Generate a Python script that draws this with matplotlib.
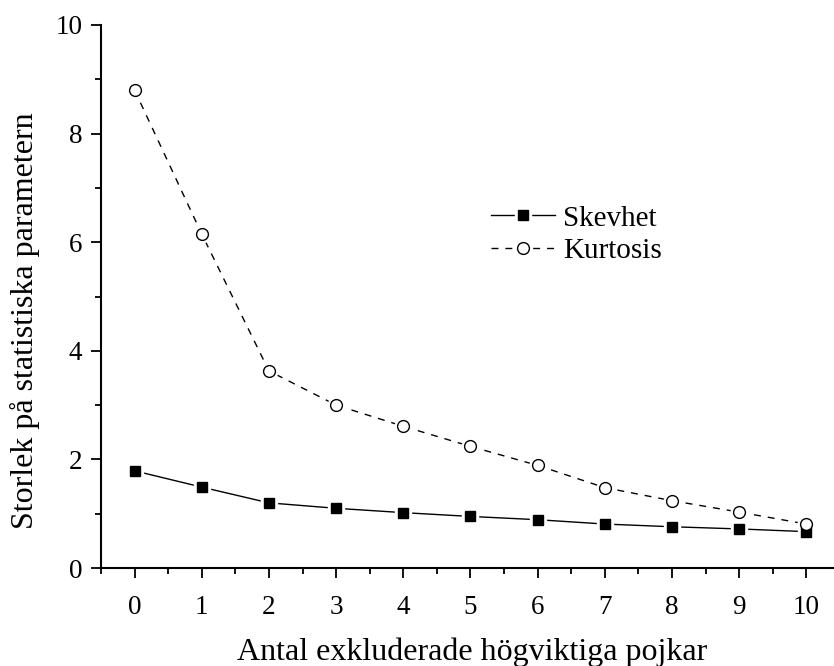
import matplotlib.pyplot as plt
import numpy as np
from matplotlib.ticker import MultipleLocator
from matplotlib.legend_handler import HandlerTuple

plt.rcParams['font.family'] = ['Liberation Serif', 'DejaVu Serif']

excluded = np.arange(0, 11)
skevhet = [1.79, 1.49, 1.20, 1.10, 1.02, 0.95, 0.89, 0.81, 0.76, 0.72, 0.67]
kurtosis = [8.80, 6.15, 3.63, 3.00, 2.61, 2.24, 1.89, 1.48, 1.24, 1.03, 0.81]

fig = plt.figure(figsize=(8.34, 6.66), dpi=100)
ax = fig.add_axes([0.1211, 0.1471, 0.886, 0.8154])

# lines, then a white halo under each marker so the line stops short of it
l1, = ax.plot(excluded, skevhet, color='black', lw=1.0, zorder=2)
h1, = ax.plot(excluded, skevhet, ls='none', marker='s', ms=11, mfc='white',
              mec='white', zorder=3)
m1, = ax.plot(excluded, skevhet, ls='none', marker='s', ms=7.5, mfc='black',
              mec='black', zorder=4)

l2, = ax.plot(excluded, kurtosis, color='black', lw=1.0, ls=(0, (5, 5)), zorder=2)
h2, = ax.plot(excluded, kurtosis, ls='none', marker='o', ms=12, mfc='white',
              mec='white', zorder=3)
m2, = ax.plot(excluded, kurtosis, ls='none', marker='o', ms=8.5, mfc='white',
              mec='black', mew=1.0, zorder=4)

ax.set_xlim(-0.5, 10.5)
ax.set_ylim(0, 10)
ax.xaxis.set_major_locator(MultipleLocator(1))
ax.xaxis.set_minor_locator(MultipleLocator(0.5))
ax.yaxis.set_major_locator(MultipleLocator(2))
ax.yaxis.set_minor_locator(MultipleLocator(1))

for s in ['top', 'right']:
    ax.spines[s].set_visible(False)
for s in ['left', 'bottom']:
    ax.spines[s].set_linewidth(1.5)

ax.tick_params(which='major', direction='out', length=7.5, width=1.3,
               labelsize=19.5)
ax.tick_params(which='minor', direction='out', length=4, width=1.3)
ax.tick_params(axis='x', which='major', pad=12)
ax.tick_params(axis='y', which='major', pad=6)

ax.set_xlabel('Antal exkluderade högviktiga pojkar', fontsize=23)
ax.set_ylabel('Storlek på statistiska parametern', fontsize=23)
ax.xaxis.set_label_coords(0.502, -0.128)
ax.yaxis.set_label_coords(-0.083, 0.456)

ax.legend([(l1, h1, m1), (l2, h2, m2)], ['Skevhet', 'Kurtosis'],
          handler_map={tuple: HandlerTuple(ndivide=1)},
          loc='upper left', bbox_to_anchor=(0.508, 0.695), frameon=False,
          borderpad=0, fontsize=21, handlelength=2.2, handletextpad=0.27,
          labelspacing=0.2)

fig.savefig('out.png', dpi=100)
